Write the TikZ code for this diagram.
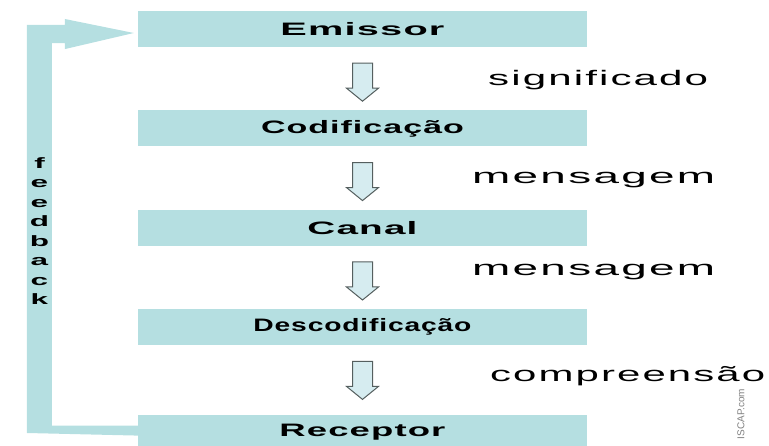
\documentclass[tikz,border=0pt]{standalone}
\usepackage{fontspec}
\setmainfont{Liberation Sans}
\newfontfamily\boxfont[LetterSpace=3]{Liberation Sans}
\newfontfamily\labfont[LetterSpace=5]{Liberation Sans}
\usepackage{graphicx}
\usepackage{tikz}
\usetikzlibrary{positioning,calc}

\definecolor{boxcol}{RGB}{181,223,225}
\definecolor{arrfill}{RGB}{214,236,240}
\definecolor{arrline}{RGB}{85,95,95}

% texto esticado na horizontal até a largura dada
\newcommand{\fitw}[2]{\resizebox{#1}{\height}{#2}}
\newcommand{\fbl}[1]{\scalebox{2.1}[1]{#1}}

\tikzset{
  box/.style={rectangle, fill=boxcol, minimum width=449pt, minimum height=36pt, inner sep=0pt,
    font=\boxfont\bfseries\fontsize{18}{20}\selectfont},
  lab/.style={anchor=west, inner sep=0pt, font=\labfont\fontsize{21}{24}\selectfont},
  downarr/.pic={\draw[arrline, fill=arrfill, line width=1pt]
    (-10,19) -- (10,19) -- (10,-6) -- (16,-6) -- (0,-19) -- (-16,-6) -- (-10,-6) -- cycle;}
}

\begin{document}
\begin{tikzpicture}[x=1pt, y=1pt, node distance=63pt]
\useasboundingbox (0,0) rectangle (769,446);

\node[box] (emi) at (362.5,417) {\fitw{164pt}{Emissor}};
\node[box, below=of emi] (cod) {\fitw{203pt}{Codificação}};
\node[box, below=of cod] (can) {\fitw{110pt}{Canal}};
\node[box, below=of can] (des) {\fitw{218pt}{Descodificação}};
\node[box, below=69pt of des] (rec) {\fitw{166pt}{Receptor}};

% setas entre as etapas
\foreach \a in {emi,cod,can,des}
  \pic at ([yshift=-35pt]\a.south) {downarr};

\node[lab] (lsig) at (488,366) {\fitw{220pt}{significado}};
\node[lab] (lmen1) at (472,266) {\fitw{243pt}{mensagem}};
\node[lab] (lmen2) at (472,174) {\fitw{243pt}{mensagem}};
\node[lab] (lcomp) at (490,70) {\fitw{275pt}{compreensão}};

% retorno do receptor ao emissor
\fill[boxcol] ([yshift=7pt]rec.west) -- ++(-86,0) -- ++(0,382.5) -- ++(13,0) -- ++(0,-6)
  -- ([xshift=-4pt,yshift=-4pt]emi.west) -- ++(-69,14) -- ++(0,-6) -- ++(-38,0)
  -- ++(0,-408) -- ([yshift=-3pt]rec.west) -- cycle;
\node[align=center, inner sep=0pt, font=\bfseries\fontsize{15}{19.5}\selectfont] (fb) at (39.5,215)
  {\fbl{f}\\\fbl{e}\\\fbl{e}\\\fbl{d}\\\fbl{b}\\\fbl{a}\\\fbl{c}\\\fbl{k}};

\node[rotate=90, text=gray, inner sep=0pt, font=\fontsize{10}{11}\selectfont] (wm) at (741,32) {ISCAP.com};
\end{tikzpicture}
\end{document}
